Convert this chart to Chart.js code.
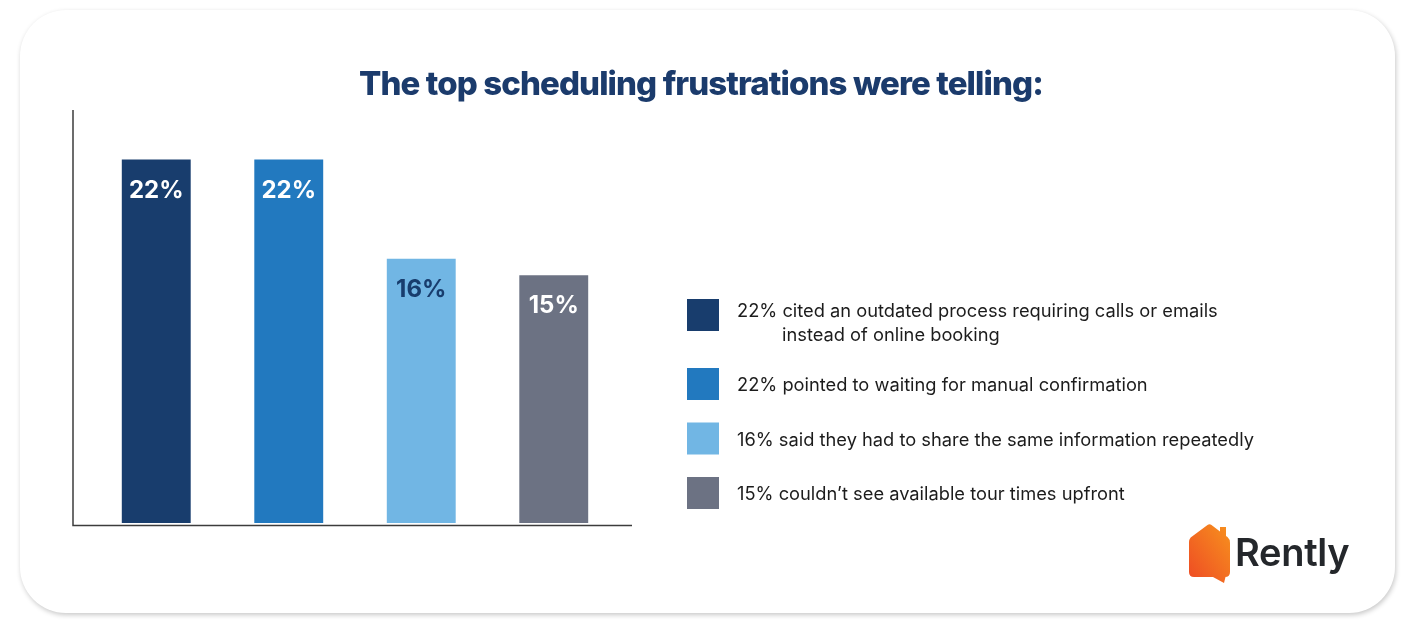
<!DOCTYPE html>
<html>
<head>
<meta charset="utf-8">
<script src="https://cdn.jsdelivr.net/npm/chart.js@4.4.1/dist/chart.umd.min.js"></script>
<style>
  html, body { margin: 0; padding: 0; background: #ffffff; }
  body { width: 1422px; height: 629px; position: relative; overflow: hidden; font-family: Inter, sans-serif; }
  .card {
    position: absolute; left: 20px; top: 10px; width: 1375px; height: 603px;
    background: #ffffff; border-radius: 46px;
    box-shadow: 1px 2px 5px rgba(0,0,0,0.22);
  }
  #Graph { position: absolute; left: 0; top: 0; }
  .logo { position: absolute; left: 1189px; top: 523px; height: 62px; }
  .logo svg { position: absolute; left: 0; top: 0; }
  .logo span {
    position: absolute; left: 46px; top: 6px; font-family: Inter, sans-serif;
    font-weight: 600; font-size: 38px; color: #24272b; letter-spacing: -0.3px; line-height: 46px;
  }
</style>
</head>
<body>
<div class="card"></div>
<canvas id="Graph" width="1422" height="629"></canvas>
<div class="logo">
  <svg width="42" height="62" viewBox="0 0 42 62">
    <defs>
      <linearGradient id="lg" x1="1" y1="0" x2="0" y2="1">
        <stop offset="0" stop-color="#f7921e"/>
        <stop offset="1" stop-color="#ee4a24"/>
      </linearGradient>
    </defs>
    <path fill="url(#lg)" d="M0 19 Q0 15.5 3 13.5 L18.5 2 Q20.5 0.5 22.5 2 L31 8.5 L31 4 L37 4 L37 13 L38.5 14 Q41 16 41 20 L41 49 Q41 54 36 54 L36.5 54 L35 60 L24 54 L5 54 Q0 54 0 49 Z"/>
  </svg>
  <span>Rently</span>
</div>
<script>
const categories = ["Outdated process", "Manual confirmation", "Repeated information", "Tour times"];
const values = [22, 22, 16, 15];
const barColors = ["#183d6d", "#2279bf", "#71b6e4", "#6c7283"];
const labelColors = ["#ffffff", "#ffffff", "#183d6d", "#ffffff"];
const legendLines = [
    ["22% cited an outdated process requiring calls or emails", "instead of online booking"],
    ["22% pointed to waiting for manual confirmation"],
    ["16% said they had to share the same information repeatedly"],
    ["15% couldn\u2019t see available tour times upfront"]
];
const titleText = "The top scheduling frustrations were telling:";

// title, axis lines, bar labels and the legend on the right
const extras = {
    id: "extras",
    afterDatasetsDraw(chart) {
        const ctx = chart.ctx;
        const area = chart.chartArea;
        ctx.save();

        ctx.fillStyle = "#1b3b6c";
        ctx.font = "800 33px Inter";
        ctx.letterSpacing = "-0.9px";
        ctx.textAlign = "center";
        ctx.textBaseline = "alphabetic";
        ctx.fillText(titleText, 701, 95);
        ctx.letterSpacing = "0px";

        ctx.strokeStyle = "#3c3c3c";
        ctx.lineWidth = 1.5;
        ctx.beginPath();
        ctx.moveTo(area.left - 17, area.top);
        ctx.lineTo(area.left - 17, area.bottom + 2.5);
        ctx.lineTo(area.right + 12, area.bottom + 2.5);
        ctx.stroke();

        const meta = chart.getDatasetMeta(0);
        ctx.font = "700 24px Inter";
        meta.data.forEach((bar, i) => {
            ctx.fillStyle = labelColors[i];
            ctx.fillText(values[i] + "%", bar.x, bar.y + 38);
        });

        ctx.textAlign = "left";
        ctx.font = "400 18.3px Inter";
        let y = 299;
        legendLines.forEach((lines, i) => {
            ctx.fillStyle = barColors[i];
            ctx.fillRect(687, y, 32, 32);
            ctx.fillStyle = "#1c1c1c";
            const first = lines.length > 1 ? 18 : 23;
            lines.forEach((line, j) => {
                ctx.fillText(line, j === 0 ? 737 : 782, y + first + j * 24);
            });
            y += 54.5 + (lines.length - 1) * 14.5;
        });
        ctx.restore();
    }
};

function main(){
    new Chart("Graph", {
        type: "bar",
        data: {
            labels: categories,
            datasets: [{
                data: values,
                backgroundColor: barColors,
                borderWidth: 0,
                barPercentage: 0.52,
                categoryPercentage: 1
            }]
        },
        options: {
            responsive: false,
            animation: false,
            layout: {padding: {left: 90, right: 802, top: 110, bottom: 106}},
            plugins: {
                legend: {display: false},
                tooltip: {enabled: false}
            },
            scales: {
                x: {display: false},
                y: {display: false, min: 0, max: 25}
            }
        },
        plugins: [extras]
    });
}

main();
</script>
</body>
</html>
